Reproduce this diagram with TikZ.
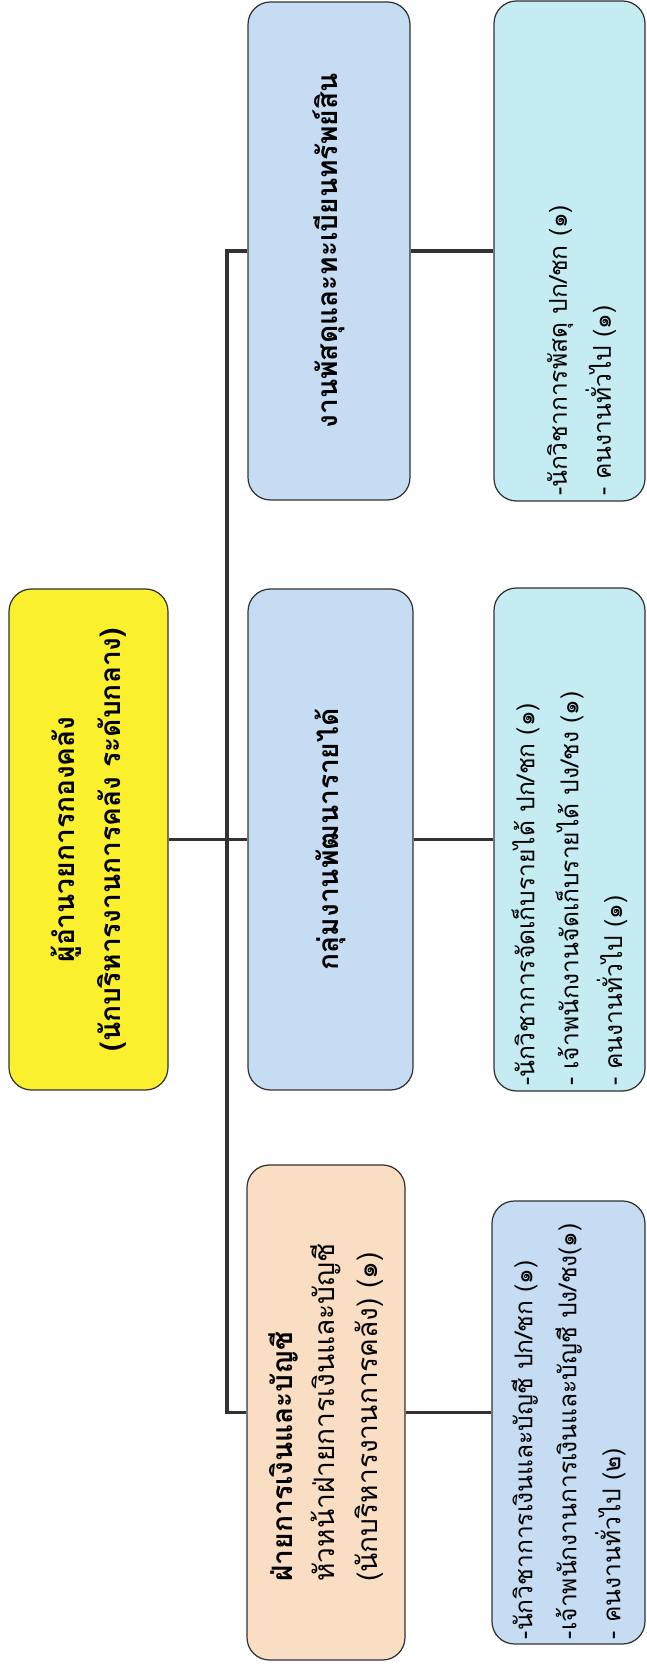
\documentclass[tikz,border=0pt]{standalone}
\usepackage{fontspec}
\newfontfamily\thaifont[Script=Thai]{Loma}
\definecolor{bossyellow}{RGB}{250,240,45}
\definecolor{unitblue}{RGB}{197,220,243}
\definecolor{unitpeach}{RGB}{250,222,196}
\definecolor{jobcyan}{RGB}{196,236,242}
\definecolor{linegray}{RGB}{50,50,50}

\begin{document}
\begin{tikzpicture}[
        box/.style={draw=linegray, line width=0.7pt, rounded corners=0.45cm, rotate=90, align=center, inner sep=0.1cm, font=\thaifont\fontsize{16}{26}\selectfont},
        jobbox/.style={box, align=left, font=\thaifont\fontsize{14}{25}\selectfont},
        link/.style={draw=linegray, line width=2.2pt}
    ]
        \useasboundingbox (0,0) rectangle (12.94,33.34);

        \node[box, fill=bossyellow, minimum width=10.02cm, minimum height=3.18cm] (boss) at (1.77,16.55) {\bfseries ผู้อำนวยการกองคลัง\\ \bfseries (นักบริหารงานการคลัง ระดับกลาง)};

        \node[box, fill=unitblue, minimum width=9.96cm, minimum height=3.24cm] (supply) at (6.58,28.32) {\bfseries งานพัสดุและทะเบียนทรัพย์สิน};
        \node[box, fill=unitblue, minimum width=10.02cm, minimum height=3.30cm] (revenue) at (6.61,16.55) {\bfseries กลุ่มงานพัฒนารายได้};
        \node[box, fill=unitpeach, align=left, minimum width=9.90cm, minimum height=3.16cm, font=\thaifont\fontsize{16}{24}\selectfont] (finance) at (6.52,5.09) {\bfseries ฝ่ายการเงินและบัญชี\\ หัวหน้าฝ่ายการเงินและบัญชี\\ (นักบริหารงานการคลัง) (๑)};

        \node[jobbox, fill=jobcyan, text width=9.80cm, minimum width=9.96cm, minimum height=3.02cm] (supplyjobs) at (11.39,28.32) {\mbox{}\\ -นักวิชาการพัสดุ ปก/ชก (๑)\\ - คนงานทั่วไป (๑)};
        \node[jobbox, fill=jobcyan, text width=9.86cm, minimum width=10.02cm, minimum height=3.02cm] (revenuejobs) at (11.39,16.55) {-นักวิชาการจัดเก็บรายได้ ปก/ชก (๑)\\ - เจ้าพนักงานจัดเก็บรายได้ ปง/ชง (๑)\\ - คนงานทั่วไป (๑)};
        \node[jobbox, fill=unitblue, text width=8.66cm, minimum width=8.82cm, minimum height=3.06cm] (financejobs) at (11.37,4.89) {-นักวิชาการเงินและบัญชี ปก/ชก (๑)\\ -เจ้าพนักงานการเงินและบัญชี ปง/ชง(๑)\\ - คนงานทั่วไป (๒)};

        \coordinate (bus) at (4.54,16.55);

        \draw[link] (boss.south) -- (revenue.north);
        \draw[link] (supply.north) -- (supply.north -| bus) -- (finance.north -| bus) -- (finance.north);
        \draw[link] (supply.south) -- (supplyjobs.north);
        \draw[link] (revenue.south) -- (revenuejobs.north);
        \draw[link] (finance.south) -- (finance.south -| financejobs.north);
    \end{tikzpicture}
\end{document}
